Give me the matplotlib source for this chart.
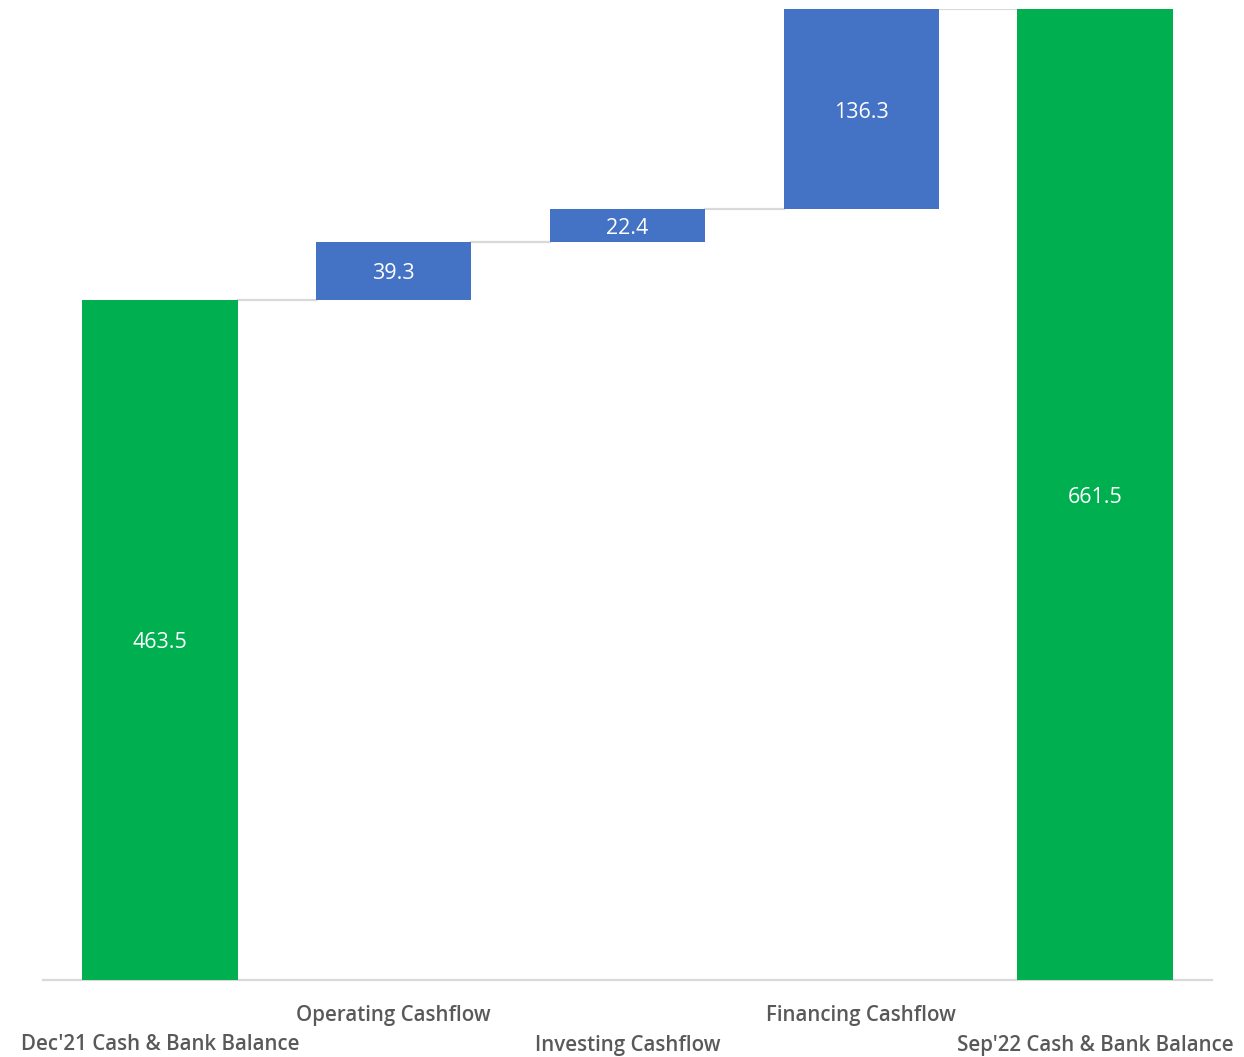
import matplotlib
matplotlib.use("Agg")
import matplotlib.pyplot as plt
from matplotlib.transforms import blended_transform_factory

categories = ["Dec'21 Cash & Bank Balance", "Operating Cashflow", "Investing Cashflow",
              "Financing Cashflow", "Sep'22 Cash & Bank Balance"]
values = [463.5, 39.3, 22.4, 136.3, 661.5]
is_total = [True, False, False, False, True]

GREEN = "#00B050"
BLUE = "#4472C4"
GRID = "#D9D9D9"
LABEL = "#595959"

plt.rcParams['font.family'] = ['Open Sans', 'DejaVu Sans']

fig = plt.figure(figsize=(12.44, 10.57), dpi=100)
ax = fig.add_axes([43/1244, 77/1057, 1169/1244, 971/1057])

bottoms, heights, colors = [], [], []
running = 0.0
for v, t in zip(values, is_total):
    if t:
        bottoms.append(0.0)
        heights.append(v)
        colors.append(GREEN)
        running = v
    else:
        bottoms.append(running)
        heights.append(v)
        colors.append(BLUE)
        running += v

x = list(range(len(values)))
width = 0.665
ax.bar(x, heights, bottom=bottoms, width=width, color=colors, zorder=3)

# connectors
for i in range(len(values) - 1):
    level = bottoms[i] + heights[i]
    ax.plot([i + width/2, i + 1 - width/2], [level, level], color=GRID, lw=1.6, zorder=2)

# value labels
for i, (b, h) in enumerate(zip(bottoms, heights)):
    ax.annotate(f"{values[i]:.1f}", (i, b + h/2), xytext=(0, -2.2),
                textcoords="offset points", ha="center", va="center",
                color="white", fontsize=15.5, zorder=4)

ax.set_xlim(-0.5, 4.5)
ax.set_ylim(0, 661.5)
for s in ["top", "right", "left"]:
    ax.spines[s].set_visible(False)
ax.spines["bottom"].set_color(GRID)
ax.spines["bottom"].set_linewidth(1.6)
ax.set_yticks([])
ax.set_xticks([])

trans = blended_transform_factory(ax.transData, fig.transFigure)
for i, c in enumerate(categories):
    ypix = 1016 if i % 2 == 1 else 1045
    ax.text(i, 1 - ypix/1057, c, transform=trans, ha="center", va="center",
            color=LABEL, fontsize=14.8, fontweight="semibold")

fig.savefig("out.png", dpi=100, facecolor="white")
